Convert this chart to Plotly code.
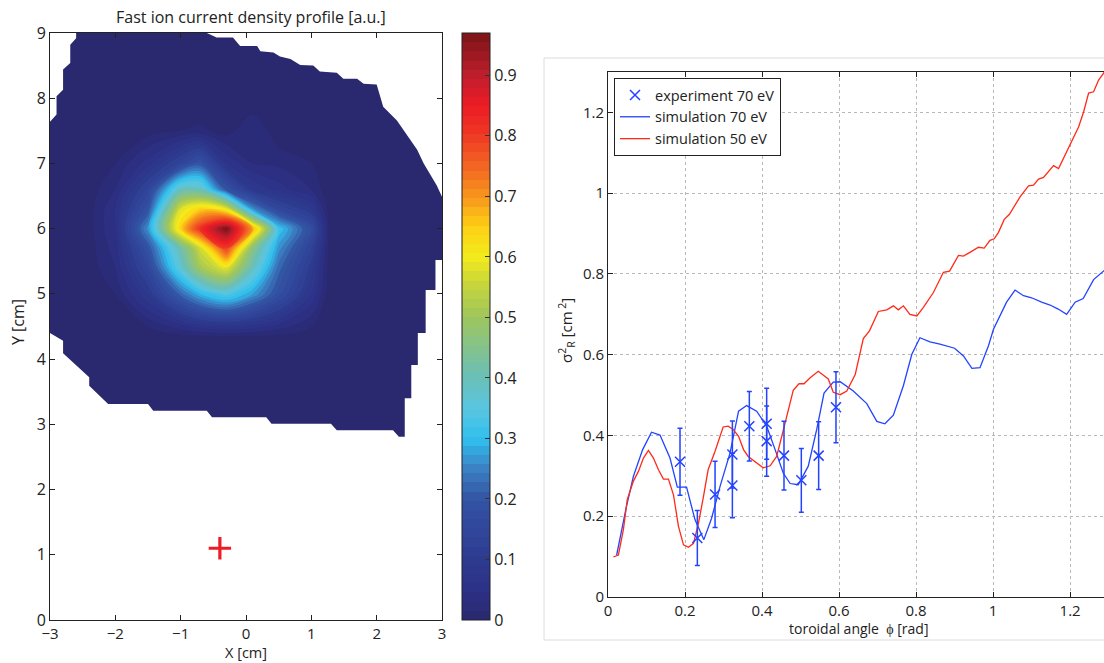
import numpy as np
import plotly.graph_objects as go

# ---------------- left panel: fast ion current density ----------------
grid_x = [-3.0, -2.5, -2.0, -1.5, -1.0, -0.7, -0.3, 0.1, 0.5, 1.0, 1.3, 2.0, 3.0]
grid_y = [2.7, 4.3, 4.5, 5.0, 5.4, 5.7, 6.0, 6.3, 6.6, 7.0, 7.5, 8.0, 9.0]
density = [
    [0, 0, 0, 0, 0, 0, 0, 0, 0, 0, 0, 0, 0],
    [0, 0, 0, 0, 0, 0, 0, 0, 0, 0, 0, 0, 0],
    [0, 0, 0, 0.02, 0.05, 0.07, 0.08, 0.07, 0.05, 0.02, 0, 0, 0],
    [0, 0, 0.02, 0.10, 0.23, 0.30, 0.35, 0.28, 0.19, 0.08, 0, 0, 0],
    [0, 0, 0.04, 0.16, 0.37, 0.51, 0.59, 0.40, 0.23, 0.11, 0, 0, 0],
    [0, 0, 0.05, 0.20, 0.42, 0.57, 0.80, 0.47, 0.27, 0.14, 0, 0, 0],
    [0, 0, 0.06, 0.27, 0.65, 0.82, 0.97, 0.70, 0.32, 0.18, 0, 0, 0],
    [0, 0, 0.06, 0.20, 0.58, 0.65, 0.60, 0.27, 0.16, 0.10, 0, 0, 0],
    [0, 0, 0.04, 0.15, 0.40, 0.40, 0.20, 0.10, 0.07, 0.04, 0, 0, 0],
    [0, 0, 0.02, 0.07, 0.15, 0.20, 0.08, 0.04, 0.035, 0.02, 0, 0, 0],
    [0, 0, 0, 0.01, 0.02, 0.025, 0.01, 0.04, 0.005, 0, 0, 0, 0],
    [0, 0, 0, 0, 0, 0, 0, 0, 0, 0, 0, 0, 0],
    [0, 0, 0, 0, 0, 0, 0, 0, 0, 0, 0, 0, 0],
]
# outline of the measured region (cm), clockwise
region_x = [-2.60, -0.60, -0.45, -0.20, -0.09, 0.17, 0.22, 0.42, 0.52, 0.68, 0.83, 1.03,
            1.13, 1.39, 1.49, 1.70, 1.80, 2.00, 2.10, 2.31, 2.41, 2.62, 2.72, 2.92, 3.00,
            3.00, 2.90, 2.90, 2.75, 2.75, 2.63, 2.63, 2.53, 2.53, 2.43, 2.43, 2.34, 2.25,
            1.39, 1.30, 0.39, 0.31, -0.52, -0.60, -1.42, -1.50, -2.11, -2.40, -2.40, -2.80,
            -2.80, -3.00, -3.00, -2.90, -2.90, -2.80, -2.80, -2.69, -2.69, -2.60]
region_y = [9.00, 9.00, 8.93, 8.93, 8.80, 8.80, 8.72, 8.70, 8.64, 8.60, 8.51, 8.50,
            8.41, 8.39, 8.30, 8.30, 8.22, 8.21, 7.87, 7.66, 7.52, 7.21, 7.00, 6.66, 6.49,
            5.52, 5.52, 5.06, 5.06, 4.40, 4.40, 3.91, 3.91, 3.40, 3.40, 2.81, 2.81, 2.91,
            2.91, 3.01, 3.01, 3.11, 3.11, 3.21, 3.21, 3.31, 3.31, 3.59, 3.72, 4.09,
            4.28, 4.40, 7.64, 7.75, 8.03, 8.13, 8.44, 8.54, 8.82, 8.92]
source_x = [-0.4]
source_y = [1.1]
x_range = [-3, 3]
y_range = [0, 9]

c_max = 0.97
cb_ticks = [0, 0.1, 0.2, 0.3, 0.4, 0.5, 0.6, 0.7, 0.8, 0.9]
cmap_vals = [0.0, 0.05, 0.1, 0.15, 0.2, 0.25, 0.3, 0.35, 0.4, 0.45, 0.5, 0.55, 0.6,
             0.65, 0.7, 0.75, 0.8, 0.85, 0.9, 0.97]
cmap_cols = ['#2a296f', '#2c3187', '#2d3b8f', '#31479c', '#3354a3', '#3b82c4', '#30c0ee',
             '#5bc6e0', '#69bfb7', '#85c28d', '#9ec55d', '#c3d43d', '#f4eb1c', '#fdd015',
             '#f7941d', '#f26522', '#ee3a24', '#ed1c24', '#be1e2d', '#7a1416']

# ---------------- right panel: sigma_R^2 vs toroidal angle ----------------
sim70_phi = [0.0225, 0.047, 0.066, 0.090, 0.113, 0.135, 0.161, 0.180, 0.204, 0.226, 0.249,
             0.269, 0.291, 0.317, 0.339, 0.360, 0.386, 0.412, 0.434, 0.455, 0.473, 0.494,
             0.520, 0.542, 0.561, 0.585, 0.603, 0.637, 0.672, 0.698, 0.719, 0.741, 0.767,
             0.789, 0.810, 0.836, 0.862, 0.900, 0.923, 0.945, 0.966, 0.988, 1.001, 1.014,
             1.035, 1.057, 1.079, 1.100, 1.126, 1.148, 1.169, 1.191, 1.213, 1.234, 1.261,
             1.288, 1.300]
sim70_s = [0.104, 0.220, 0.299, 0.365, 0.408, 0.401, 0.344, 0.272, 0.272, 0.191, 0.142,
           0.195, 0.274, 0.357, 0.460, 0.474, 0.460, 0.423, 0.365, 0.307, 0.281, 0.278,
           0.324, 0.415, 0.505, 0.532, 0.533, 0.510, 0.479, 0.435, 0.429, 0.450, 0.523,
           0.601, 0.642, 0.632, 0.626, 0.616, 0.597, 0.566, 0.568, 0.622, 0.663, 0.688,
           0.730, 0.760, 0.746, 0.741, 0.730, 0.723, 0.713, 0.700, 0.730, 0.739, 0.786,
           0.808, 0.815]
sim50_phi = [0.014, 0.027, 0.040, 0.050, 0.066, 0.079, 0.092, 0.105, 0.118, 0.131, 0.144,
             0.157, 0.170, 0.183, 0.196, 0.209, 0.222, 0.235, 0.248, 0.260, 0.278, 0.299,
             0.312, 0.325, 0.339, 0.352, 0.364, 0.382, 0.403, 0.421, 0.438, 0.460, 0.481,
             0.496, 0.509, 0.525, 0.546, 0.572, 0.585, 0.603, 0.620, 0.642, 0.663, 0.679,
             0.702, 0.724, 0.741, 0.754, 0.767, 0.784, 0.802, 0.819, 0.845, 0.871, 0.887,
             0.910, 0.923, 0.941, 0.962, 0.977, 0.992, 1.003, 1.014, 1.029, 1.042, 1.070,
             1.092, 1.105, 1.118, 1.131, 1.157, 1.170, 1.191, 1.222, 1.235, 1.248, 1.261,
             1.274, 1.287, 1.300]
sim50_s = [0.099, 0.104, 0.167, 0.241, 0.287, 0.311, 0.344, 0.363, 0.344, 0.315, 0.292,
           0.292, 0.253, 0.175, 0.129, 0.123, 0.133, 0.183, 0.249, 0.315, 0.361, 0.421,
           0.423, 0.415, 0.398, 0.365, 0.348, 0.336, 0.320, 0.325, 0.348, 0.431, 0.512,
           0.528, 0.528, 0.543, 0.559, 0.540, 0.507, 0.501, 0.510, 0.551, 0.640, 0.659,
           0.707, 0.711, 0.721, 0.711, 0.721, 0.700, 0.696, 0.717, 0.754, 0.804, 0.807,
           0.846, 0.844, 0.854, 0.866, 0.864, 0.883, 0.887, 0.903, 0.935, 0.947, 0.991,
           1.018, 1.020, 1.035, 1.039, 1.068, 1.061, 1.102, 1.164, 1.201, 1.248, 1.251,
           1.280, 1.297, 1.320]
exp_phi = [0.187, 0.232, 0.278, 0.323, 0.323, 0.367, 0.412, 0.412, 0.457, 0.502, 0.547, 0.592]
exp_s = [0.335, 0.146, 0.254, 0.353, 0.276, 0.423, 0.429, 0.386, 0.350, 0.289, 0.350, 0.470]
exp_err = [0.083, 0.068, 0.082, 0.083, 0.080, 0.086, 0.088, 0.087, 0.085, 0.079, 0.084, 0.088]
phi_ticks = [0, 0.2, 0.4, 0.6, 0.8, 1.0, 1.2]
s_ticks = [0, 0.2, 0.4, 0.6, 0.8, 1.0, 1.2]
phi_range = [0, 1.288]
s_range = [0, 1.3]

# ---------------- helpers ----------------
W, H = 1104, 663
FONT = "Open Sans"
INK = '#222222'
BLUE = '#2343ff'
RED = '#ff2a18'


def px_x(p):
    return p / W


def px_y(p):
    return 1 - p / H


def hex2rgb(h):
    h = h.lstrip('#')
    return [int(h[i:i + 2], 16) for i in (0, 2, 4)]


def color_at(v):
    rgbs = np.array([hex2rgb(c) for c in cmap_cols], float)
    r = [np.interp(v, cmap_vals, rgbs[:, k]) for k in range(3)]
    return 'rgb(%d,%d,%d)' % tuple(int(round(c)) for c in r)


smooth_scale = [[v / c_max, c] for v, c in zip(cmap_vals, cmap_cols)]
n_steps = 64
step_scale = []
for k in range(n_steps):
    c = color_at((k + 0.5) / n_steps * c_max)
    step_scale.append([k / n_steps, c])
    step_scale.append([(k + 1) / n_steps, c])

# white cover outside the measured region: outer frame (counter-clockwise)
# joined to the region outline (clockwise) so the region becomes a hole
pad = 0.2
fx0, fx1 = x_range[0] - pad, x_range[1] + pad
fy0, fy1 = min(region_y) - pad, y_range[1] + pad
cover_x = [fx0, fx0, fx1, fx1, fx0] + list(region_x) + [region_x[0], fx0]
cover_y = [fy1, fy0, fy0, fy1, fy1] + list(region_y) + [region_y[0], fy1]

fig = go.Figure()

fig.add_trace(go.Contour(
    x=grid_x, y=grid_y, z=density, xaxis='x', yaxis='y',
    colorscale=smooth_scale, zmin=0, zmax=c_max, zauto=False,
    contours=dict(start=0.02, end=0.96, size=0.02, coloring='fill'),
    line=dict(width=0, smoothing=1.0), showscale=False, hoverinfo='skip'))

fig.add_trace(go.Scatter(
    x=cover_x, y=cover_y, mode='lines', fill='toself', fillcolor='white',
    line=dict(width=0, color='white'), xaxis='x', yaxis='y', showlegend=False,
    hoverinfo='skip'))

fig.add_trace(go.Scatter(
    x=source_x, y=source_y, mode='markers', xaxis='x', yaxis='y', showlegend=False,
    marker=dict(symbol='cross-thin', size=16, line=dict(width=3.2, color='#ee1c25'))))

# colorbar carrier
fig.add_trace(go.Scatter(
    x=[0, 0], y=[-5, -5], mode='markers', xaxis='x', yaxis='y', showlegend=False,
    hoverinfo='skip',
    marker=dict(size=0.1, opacity=0, color=[0, c_max], cmin=0, cmax=c_max,
                colorscale=step_scale, showscale=True,
                colorbar=dict(x=px_x(462), xanchor='left', y=px_y(620), yanchor='bottom',
                              len=(620 - 33) / H, lenmode='fraction', thickness=28,
                              thicknessmode='pixels', outlinecolor=INK, outlinewidth=1,
                              tickvals=cb_ticks, ticks='inside', ticklen=5,
                              tickcolor='#333', tickfont=dict(size=16, color=INK, family=FONT),
                              xpad=0, ypad=0))))

# right panel
fig.add_trace(go.Scatter(
    x=sim70_phi, y=sim70_s, mode='lines', xaxis='x2', yaxis='y2',
    name='simulation 70 eV', legendrank=2, line=dict(color=BLUE, width=1.3)))
fig.add_trace(go.Scatter(
    x=sim50_phi, y=sim50_s, mode='lines', xaxis='x2', yaxis='y2',
    name='simulation 50 eV', legendrank=3, line=dict(color=RED, width=1.3)))
fig.add_trace(go.Scatter(
    x=exp_phi, y=exp_s, mode='markers', xaxis='x2', yaxis='y2',
    name='experiment 70 eV', legendrank=1,
    error_y=dict(type='data', array=exp_err, visible=True, color=BLUE,
                 thickness=1.5, width=2.5),
    marker=dict(symbol='x-thin', size=10, color=BLUE, line=dict(width=1.5, color=BLUE))))

axis_common = dict(showline=True, linecolor=INK, linewidth=1, ticks='inside',
                   ticklen=5, tickcolor=INK, zeroline=False, automargin=False,
                   tickfont=dict(family=FONT, color=INK))
num_text = ['0', '0.2', '0.4', '0.6', '0.8', '1', '1.2']

fig.update_layout(
    width=W, height=H, margin=dict(l=0, r=0, t=0, b=0, pad=0, autoexpand=False),
    paper_bgcolor='white', plot_bgcolor='white',
    font=dict(family=FONT, color=INK),
    xaxis=dict(domain=[px_x(50), px_x(442)], range=x_range, tickvals=[-3, -2, -1, 0, 1, 2, 3],
               ticktext=['\u22123', '\u22122', '\u22121', '0', '1', '2', '3'],
               mirror='ticks', showgrid=False, anchor='y', **axis_common),
    yaxis=dict(domain=[px_y(620), px_y(33)], range=y_range, tickvals=list(range(10)),
               mirror='ticks', showgrid=False, anchor='x', **axis_common),
    xaxis2=dict(domain=[px_x(608), 1.0], range=phi_range, tickvals=phi_ticks,
                ticktext=num_text, mirror='ticks', showgrid=True, gridcolor='#b8b8b8',
                griddash='dot', gridwidth=1, anchor='y2', **axis_common),
    yaxis2=dict(domain=[px_y(597), px_y(72)], range=s_range, tickvals=s_ticks,
                ticktext=num_text, mirror=False, showgrid=True, gridcolor='#b8b8b8',
                griddash='dot', gridwidth=1, anchor='x2', **axis_common),
    legend=dict(x=px_x(614), y=px_y(78), xanchor='left', yanchor='top',
                bordercolor=INK, borderwidth=1, bgcolor='white',
                font=dict(size=14.5, family=FONT, color=INK),
                tracegroupgap=0, itemwidth=30),
    showlegend=True,
)
fig.update_xaxes(tickfont_size=15, selector=dict(anchor='y'))
fig.update_yaxes(tickfont_size=16, selector=dict(anchor='x'))
fig.update_xaxes(tickfont_size=15, selector=dict(anchor='y2'))
fig.update_yaxes(tickfont_size=15, selector=dict(anchor='x2'))

annotations = [
    dict(text='Fast ion current density profile [a.u.]', x=px_x(251), y=px_y(17),
         font=dict(size=16), yanchor='middle'),
    dict(text='X [cm]', x=px_x(246), y=0, font=dict(size=14.5), borderpad=0,
         yanchor='bottom'),
    dict(text='Y [cm]', x=px_x(18), y=px_y(322), textangle=-90, font=dict(size=16),
         yanchor='middle'),
    dict(text='toroidal angle  \u03d5 [rad]', x=px_x(858), y=px_y(628), font=dict(size=14),
         yanchor='middle'),
    dict(text='\u03c3<sup>2</sup><sub>R</sub> [cm<sup> 2</sup>]', x=px_x(566), y=px_y(330),
         textangle=-90, font=dict(size=15), yanchor='middle'),
]
for a in annotations:
    a.update(xref='paper', yref='paper', showarrow=False, xanchor='center')
fig.update_layout(annotations=annotations)

fig.add_shape(type='rect', xref='paper', yref='paper', x0=px_x(544), x1=1.05,
              y0=px_y(640), y1=px_y(58), line=dict(color='#dcdcdc', width=1), layer='below')

fig.write_html('out.html', config={'displayModeBar': False},
               post_script="document.body.style.margin='0';")
